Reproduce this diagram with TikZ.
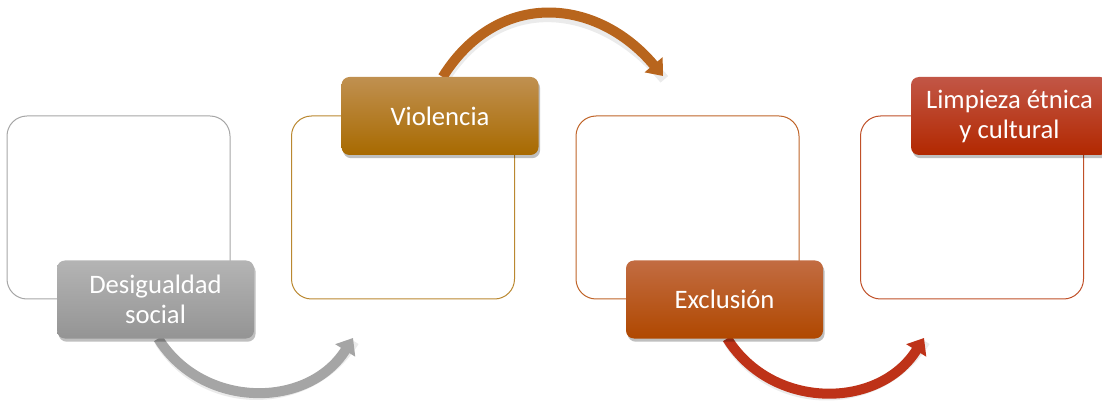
\documentclass[tikz,border=0pt]{standalone}
\usepackage{fontspec}
\setmainfont{Carlito}
\usepackage{tikz}
\usetikzlibrary{arrows.meta, positioning, shadows}
\definecolor{grayline}{RGB}{166,166,166}
\definecolor{goldline}{RGB}{186,136,48}
\definecolor{orangeline}{RGB}{192,100,40}
\definecolor{redline}{RGB}{192,80,40}
\definecolor{graytop}{RGB}{180,180,180}
\definecolor{graybot}{RGB}{148,148,148}
\definecolor{goldtop}{RGB}{192,144,80}
\definecolor{goldbot}{RGB}{168,106,0}
\definecolor{orangetop}{RGB}{194,108,66}
\definecolor{orangebot}{RGB}{176,72,0}
\definecolor{redtop}{RGB}{194,86,70}
\definecolor{redbot}{RGB}{178,40,0}
\definecolor{grayarrow}{RGB}{165,165,165}
\definecolor{goldarrow}{RGB}{184,101,29}
\definecolor{redarrow}{RGB}{190,50,24}

\begin{document}
\begin{tikzpicture}[x=0.75pt, y=0.75pt,
    frame/.style={rectangle, draw=#1, line width=0.75pt, fill=white,
                  rounded corners=15pt, minimum width=167.25pt, minimum height=137.25pt},
    label/.style args={#1/#2}{rectangle, rounded corners=6pt, top color=#1, bottom color=#2,
                  draw=none, minimum width=147.75pt, minimum height=58.5pt, align=center,
                  text=white, font=\fontsize{20}{22.5}\selectfont,
                  drop shadow={shadow xshift=1.2pt, shadow yshift=-2.4pt, opacity=0.25, fill=black}},
    bend/.style={line width=7.5pt, draw=#1, -{Triangle[width=17pt, length=11pt]}},
    bendshadow/.style={line width=7.5pt, draw=black, opacity=0.08}
]
    \useasboundingbox (0,0) rectangle (1102,407);

    % outline frames
    \node[frame=grayline] (frame1) at (118.5,199.5) {};
    \node[frame=goldline] (frame2) at (403,199.5) {};
    \node[frame=orangeline] (frame3) at (687.5,199.5) {};
    \node[frame=redline] (frame4) at (972,199.5) {};

    % free ends of the curved arrows
    \coordinate (end1) at (353,69);
    \coordinate (end2) at (663,331);
    \coordinate (end3) at (924,69);

    % label boxes (placed first as coordinates for the arrows)
    \path (155.5,107.5) coordinate (p1) (440,291) coordinate (p2)
          (724.5,107.5) coordinate (p3) (1009.5,291) coordinate (p4);
    \coordinate (s1) at ([yshift=-29.25pt, xshift=2pt]p1);
    \coordinate (s2) at ([yshift=29.25pt, xshift=2pt]p2);
    \coordinate (s3) at ([yshift=-29.25pt, xshift=2pt]p3);

    % shadows of the arrows
    \draw[bendshadow] ([shift={(1pt,-2.5pt)}]s1) to[out=-58, in=-122, looseness=1.1] ([shift={(1pt,-2.5pt)}]end1);
    \draw[bendshadow] ([shift={(1pt,-2.5pt)}]s2) to[out=58, in=130, looseness=1.2] ([shift={(1pt,-2.5pt)}]end2);
    \draw[bendshadow] ([shift={(1pt,-2.5pt)}]s3) to[out=-58, in=-122, looseness=1.1] ([shift={(1pt,-2.5pt)}]end3);

    % curved arrows
    \draw[bend=grayarrow] (s1) to[out=-58, in=-122, looseness=1.1] (end1);
    \draw[bend=goldarrow] (s2) to[out=58, in=130, looseness=1.2] (end2);
    \draw[bend=redarrow] (s3) to[out=-58, in=-122, looseness=1.1] (end3);

    \node[label=graytop/graybot] (desig) at (p1) {Desigualdad\\social};
    \node[label=goldtop/goldbot] (viol) at (p2) {Violencia};
    \node[label=orangetop/orangebot] (excl) at (p3) {Exclusión};
    \node[label=redtop/redbot] (limp) at (p4) {Limpieza étnica\\y cultural};
\end{tikzpicture}
\end{document}
